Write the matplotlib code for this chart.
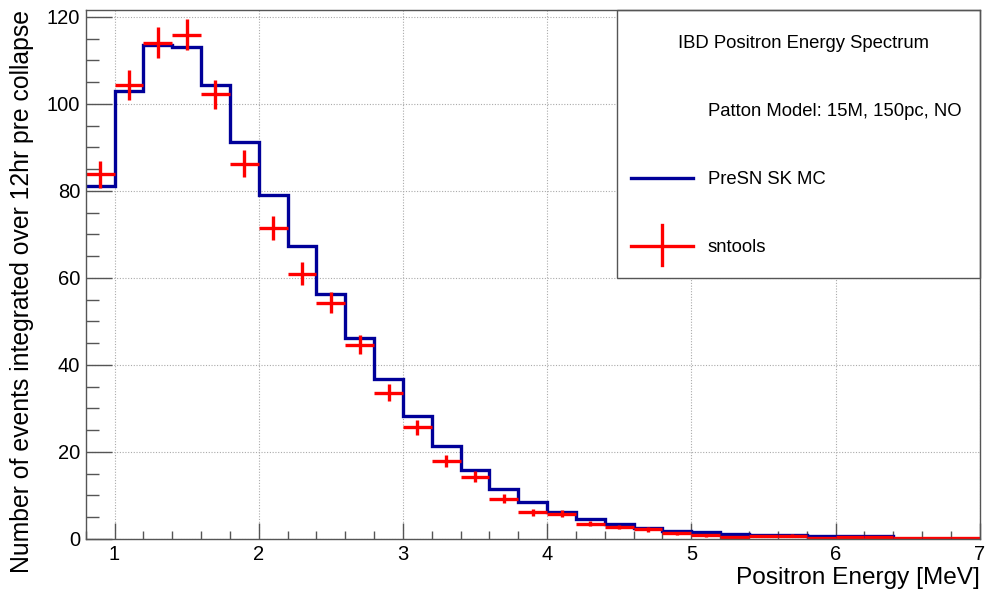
import numpy as np
import matplotlib
matplotlib.use("Agg")
import matplotlib.pyplot as plt
from matplotlib.ticker import MultipleLocator, FixedLocator
from matplotlib.patches import Rectangle
from matplotlib.lines import Line2D

plt.rcParams['font.family'] = ['Liberation Sans', 'DejaVu Sans']

# Bin edges (0.2 MeV bins from 0.8 to 7.0 MeV)
bin_edges = [0.8, 1.0, 1.2, 1.4, 1.6, 1.8, 2.0, 2.2, 2.4, 2.6, 2.8, 3.0, 3.2,
             3.4, 3.6, 3.8, 4.0, 4.2, 4.4, 4.6, 4.8, 5.0, 5.2, 5.4, 5.6, 5.8,
             6.0, 6.2, 6.4, 6.6, 6.8, 7.0]

# PreSN SK MC histogram (blue)
presn_sk_mc = [81.2, 103.0, 113.5, 113.1, 104.3, 91.3, 79.0, 67.3, 56.4, 46.1,
               36.7, 28.3, 21.4, 15.8, 11.5, 8.5, 6.3, 4.6, 3.4, 2.45, 1.85,
               1.5, 1.2, 1.0, 0.95, 0.7, 0.7, 0.6, 0.0, 0.0, 0.0]

# sntools points (red) with vertical errors
sntools = [83.8, 104.3, 114.1, 115.9, 102.2, 86.3, 71.5, 61.0, 54.3, 44.7,
           33.6, 25.7, 17.9, 14.3, 9.3, 6.1, 5.8, 3.5, 2.75, 2.2, 1.3,
           0.85, 0.55, 0.7, 0.75, 0.3, 0.4, 0.4, 0.3, 0.3, 0.3]
sntools_err = [3.05, 3.4, 3.56, 3.59, 3.37, 3.1, 2.82, 2.6, 2.46, 2.23,
               1.93, 1.69, 1.41, 1.26, 1.02, 0.82, 0.8, 0.62, 0.55, 0.49, 0.38,
               0.31, 0.25, 0.28, 0.29, 0.18, 0.21, 0.21, 0.18, 0.18, 0.18]

x_tick_labels = ['1', '2', '3', '4', '5', '6', '7']
y_tick_labels = ['0', '20', '40', '60', '80', '100', '120']

legend_header = 'IBD Positron Energy Spectrum'
legend_note = 'Patton Model: 15M, 150pc, NO'
label_mc = 'PreSN SK MC'
label_sn = 'sntools'

BLUE = '#000099'
RED = '#ff0000'
FRAME = '#555555'

W, H = 986, 594
fig = plt.figure(figsize=(W / 100, H / 100), dpi=100)
ax_l, ax_r, ax_t, ax_b = 85.7, 979.7, 10.0, 539.0
ax = fig.add_axes([ax_l / W, 1 - ax_b / H, (ax_r - ax_l) / W, (ax_b - ax_t) / H])

edges = np.array(bin_edges)
centers = (edges[:-1] + edges[1:]) / 2
halfw = (edges[1:] - edges[:-1]) / 2

ax.stairs(presn_sk_mc, edges, color=BLUE, linewidth=2.4, baseline=None, zorder=3)
ax.errorbar(centers, sntools, xerr=halfw, yerr=sntools_err, fmt='none',
            ecolor=RED, elinewidth=2.4, capsize=0, zorder=4)

ax.set_xlim(0.8, 7.0)
ax.set_ylim(0, 121.6)

ax.xaxis.set_major_locator(FixedLocator([1, 2, 3, 4, 5, 6, 7]))
ax.set_xticklabels(x_tick_labels)
ax.xaxis.set_minor_locator(MultipleLocator(0.2))
ax.yaxis.set_major_locator(FixedLocator([0, 20, 40, 60, 80, 100, 120]))
ax.set_yticklabels(y_tick_labels)
ax.yaxis.set_minor_locator(MultipleLocator(5))

ax.tick_params(axis='both', which='both', direction='in', color=FRAME,
               labelsize=14.5, top=False, right=False)
ax.tick_params(axis='y', which='major', length=19, width=1, pad=4)
ax.tick_params(axis='y', which='minor', length=9.5, width=1)
ax.tick_params(axis='x', which='major', length=11.5, width=1, pad=4)
ax.tick_params(axis='x', which='minor', length=5.8, width=1)

ax.grid(True, which='major', linestyle=(0, (1, 1.5)), color='#aaaaaa',
        linewidth=0.8, zorder=0)
ax.set_axisbelow(True)
for s in ax.spines.values():
    s.set_color(FRAME)
    s.set_linewidth(1.0)
    s.set_zorder(6)

# axis titles (ROOT-style, aligned to axis ends)
fig.text(979.5 / W, 1 - 578 / H, 'Positron Energy [MeV]', ha='right',
         va='center', fontsize=17.6)
fig.text(22 / W, 1 - 10 / H, 'Number of events integrated over 12hr pre collapse',
         rotation=90, ha='center', va='top', fontsize=17.8)

# legend box drawn in axes fraction coords
def fx(px):
    return (px - ax_l) / (ax_r - ax_l)

def fy(py):
    return (ax_b - py) / (ax_b - ax_t)

box = Rectangle((fx(617.3), fy(278.3)), 1 - fx(617.3), 1 - fy(278.3),
                transform=ax.transAxes, facecolor='white', edgecolor=FRAME,
                linewidth=1.0, zorder=5, clip_on=False)
ax.add_patch(box)
LFS = 13.3
ax.text(fx(803), fy(43), legend_header, transform=ax.transAxes, ha='center',
        va='center', fontsize=LFS, zorder=7)
ax.text(fx(708), fy(111), legend_note, transform=ax.transAxes, ha='left',
        va='center', fontsize=LFS, zorder=7)
ax.text(fx(708), fy(179), label_mc, transform=ax.transAxes, ha='left',
        va='center', fontsize=LFS, zorder=7)
ax.text(fx(708), fy(247), label_sn, transform=ax.transAxes, ha='left',
        va='center', fontsize=LFS, zorder=7)
ax.add_line(Line2D([fx(631), fx(693)], [fy(178), fy(178)], transform=ax.transAxes,
                   color=BLUE, linewidth=2.4, zorder=7, clip_on=False))
ax.add_line(Line2D([fx(631), fx(693)], [fy(246), fy(246)], transform=ax.transAxes,
                   color=RED, linewidth=2.4, zorder=7, clip_on=False))
ax.add_line(Line2D([fx(662), fx(662)], [fy(225), fy(265)], transform=ax.transAxes,
                   color=RED, linewidth=2.4, zorder=7, clip_on=False))

fig.savefig('out.png', dpi=100)
